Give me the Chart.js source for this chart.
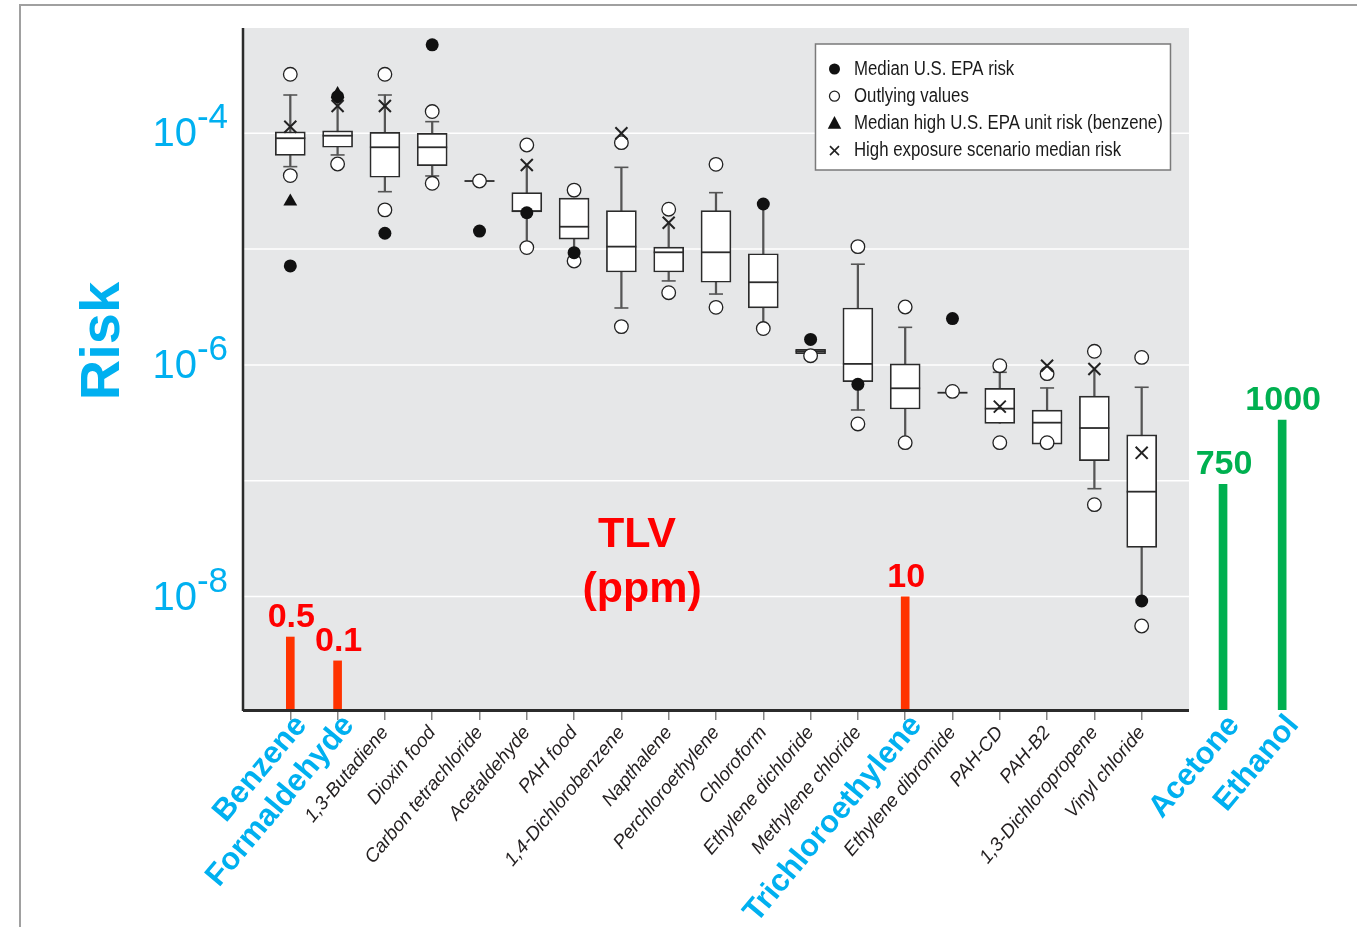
<!DOCTYPE html>
<html>
<head>
<meta charset="utf-8">
<script src="https://cdn.jsdelivr.net/npm/chart.js@4.4.1/dist/chart.umd.min.js"></script>
<style>
  html, body { margin: 0; padding: 0; background: #fff; }
  #wrap { width: 1357px; height: 927px; position: relative; }
</style>
</head>
<body>
<div id="wrap"><canvas id="riskChart"></canvas></div>
<script>
// categories (x axis)
var chemicals = ['Benzene', 'Formaldehyde', '1,3-Butadiene', 'Dioxin food', 'Carbon tetrachloride',
  'Acetaldehyde', 'PAH food', '1,4-Dichlorobenzene', 'Napthalene', 'Perchloroethylene', 'Chloroform',
  'Ethylene dichloride', 'Methylene chloride', 'Trichloroethylene', 'Ethylene dibromide', 'PAH-CD',
  'PAH-B2', '1,3-Dichloropropene', 'Vinyl chloride'];
var highlighted = ['Benzene', 'Formaldehyde', 'Trichloroethylene'];
// solvents only shown with a TLV, right of the plot
var solvents = ['Acetone', 'Ethanol'];
var solventPos = [19.72, 20.97];

// box plot values (risk)
var whiskerLo = [5.15e-5, 6.5e-5, 3.13e-5, 4.28e-5, 3.87e-5, 1.05e-5, 9.3e-6, 3.1e-6, 5.31e-6, 4.09e-6,
  2.2e-6, 1.25e-6, 4.08e-7, 2.2e-7, 5.75e-7, 3.13e-7, 2.07e-7, 8.53e-8, 9.14e-9];
var q1 = [6.45e-5, 7.57e-5, 4.17e-5, 5.25e-5, 3.87e-5, 2.09e-5, 1.22e-5, 6.34e-6, 6.34e-6, 5.17e-6,
  3.1e-6, 1.25e-6, 7.16e-7, 4.16e-7, 5.75e-7, 3.13e-7, 2.07e-7, 1.49e-7, 2.66e-8];
var median = [9.06e-5, 9.53e-5, 7.57e-5, 7.57e-5, 3.87e-5, 2.13e-5, 1.56e-5, 1.05e-5, 9.38e-6, 9.38e-6,
  5.17e-6, 1.31e-6, 1.02e-6, 6.28e-7, 5.75e-7, 4.19e-7, 3.17e-7, 2.85e-7, 8.04e-8];
var q3 = [1.03e-4, 1.05e-4, 1.02e-4, 1.0e-4, 3.87e-5, 3.07e-5, 2.76e-5, 2.15e-5, 1.04e-5, 2.15e-5,
  9.12e-6, 1.36e-6, 3.1e-6, 1.02e-6, 5.75e-7, 6.28e-7, 4.07e-7, 5.38e-7, 2.49e-7];
var whiskerHi = [2.14e-4, 2.07e-4, 2.14e-4, 1.26e-4, 3.87e-5, 5.32e-5, 2.76e-5, 5.08e-5, 1.69e-5, 3.07e-5,
  2.45e-5, 1.36e-6, 7.4e-6, 2.11e-6, 5.75e-7, 8.63e-7, 6.32e-7, 9.22e-7, 6.41e-7];
var capHi = [1, 0, 1, 1, 0, 0, 0, 1, 0, 1, 0, 0, 1, 1, 0, 1, 1, 0, 1];
var capLo = [1, 1, 1, 1, 0, 0, 0, 1, 1, 1, 0, 0, 1, 0, 0, 0, 0, 1, 0];

var outliers = [[3.23e-4, 4.31e-5], [5.43e-5], [3.23e-4, 2.18e-5], [1.54e-4, 3.7e-5], [3.87e-5],
  [7.92e-5, 1.03e-5], [3.23e-5, 7.89e-6], [8.3e-5, 2.14e-6], [2.21e-5, 4.2e-6], [5.39e-5, 3.14e-6],
  [2.06e-6], [1.2e-6], [1.05e-5, 3.09e-7], [3.16e-6, 2.13e-7], [5.9e-7], [9.84e-7, 2.13e-7],
  [8.4e-7, 2.13e-7], [1.31e-6, 6.21e-8], [1.16e-6, 5.56e-9]];
var epaMedian = [7.15e-6, 2.07e-4, 1.37e-5, 5.8e-4, 1.43e-5, 2.06e-5, 9.31e-6, null, null, null,
  2.45e-5, 1.66e-6, 6.8e-7, null, 2.51e-6, null, null, null, 9.14e-9];
var benzeneHigh = [2.57e-5, 2.18e-4];
var highExposure = [1.14e-4, 1.72e-4, 1.72e-4, null, null, 5.32e-5, null, 1.0e-4, 1.69e-5, null,
  null, null, null, null, null, 4.36e-7, 9.84e-7, 9.22e-7, 1.74e-7];

// TLV (ppm) annotations
var tlvChem = ['Benzene', 'Formaldehyde', 'Trichloroethylene', 'Acetone', 'Ethanol'];
var tlvPpm = ['0.5', '0.1', '10', '750', '1000'];
var tlvBar = [10.7, 7.2, 16.6, 33.1, 42.5]; // bar height on hidden TLV axis (0-100)

// axis
var yMin = 1.047e-9, yMax = 8.11e-4;
var gridExp = [-8, -7, -6, -5, -4];
var labelExp = [-8, -6, -4];

var cyan = '#00b0f0', red = '#ff0000', green = '#00b050';
var sans = "'Liberation Sans', Arial, sans-serif";

function posOf(name) {
  var i = chemicals.indexOf(name);
  return i >= 0 ? i : solventPos[solvents.indexOf(name)];
}
function pts(arr) {
  var out = [];
  arr.forEach(function (v, i) { if (v != null) out.push({ x: i, y: v }); });
  return out;
}
var outlierPts = [];
outliers.forEach(function (list, i) { list.forEach(function (v) { outlierPts.push({ x: i, y: v }); }); });
var capPts = [];
chemicals.forEach(function (c, i) {
  if (capHi[i]) capPts.push({ x: i, y: whiskerHi[i] });
  if (capLo[i]) capPts.push({ x: i, y: whiskerLo[i] });
});

function drawMarker(c, style, x, y, r) {
  c.beginPath();
  if (style == 'dot' || style == 'ring') {
    c.arc(x, y, r, 0, Math.PI * 2);
    c.fillStyle = style == 'dot' ? '#111' : '#fff';
    c.fill();
    if (style == 'ring') { c.lineWidth = 1.3; c.strokeStyle = '#222'; c.stroke(); }
  } else if (style == 'tri') {
    c.moveTo(x, y - r); c.lineTo(x + r * 0.9, y + r * 0.7); c.lineTo(x - r * 0.9, y + r * 0.7);
    c.closePath(); c.fillStyle = '#111'; c.fill();
  } else {
    c.moveTo(x - r, y - r); c.lineTo(x + r, y + r); c.moveTo(x + r, y - r); c.lineTo(x - r, y + r);
    c.lineWidth = 1.6; c.strokeStyle = '#222'; c.stroke();
  }
}

var decor = {
  id: 'decor',
  beforeDraw: function (chart) {
    var c = chart.ctx, a = chart.chartArea, x = chart.scales.x, y = chart.scales.y;
    var right = x.getPixelForValue(chemicals.length);
    c.save();
    c.strokeStyle = '#a0a0a0'; c.lineWidth = 2;
    c.beginPath(); c.moveTo(20, 927); c.lineTo(20, 5); c.lineTo(1357, 5); c.stroke();
    c.fillStyle = '#e6e7e8';
    c.fillRect(a.left, a.top, right - a.left, a.bottom - a.top);
    c.strokeStyle = '#ffffff'; c.lineWidth = 1.5;
    y.ticks.forEach(function (t) {
      var py = y.getPixelForValue(t.value);
      c.beginPath(); c.moveTo(a.left, py); c.lineTo(right, py); c.stroke();
    });
    c.restore();
  },
  afterDraw: function (chart) {
    var c = chart.ctx, a = chart.chartArea, x = chart.scales.x, y = chart.scales.y;
    var right = x.getPixelForValue(chemicals.length);
    c.save();
    // axis lines
    c.strokeStyle = '#2b2b2b';
    c.lineWidth = 2.5;
    c.beginPath(); c.moveTo(a.left, a.top); c.lineTo(a.left, a.bottom + 1); c.stroke();
    c.lineWidth = 3;
    c.beginPath(); c.moveTo(a.left, a.bottom + 0.5); c.lineTo(right, a.bottom + 0.5); c.stroke();

    // y tick labels 10^n
    c.fillStyle = cyan;
    c.textBaseline = 'alphabetic';
    c.textAlign = 'left';
    labelExp.forEach(function (e) {
      var py = y.getPixelForValue(Math.pow(10, e));
      var ex = String(e);
      c.font = '35px ' + sans;
      var ew = c.measureText(ex).width;
      c.font = '40px ' + sans;
      var bw = c.measureText('10').width;
      var xr = a.left - 15;
      c.fillText('10', xr - ew - bw, py + 13);
      c.font = '35px ' + sans;
      c.fillText(ex, xr - ew, py - 5);
    });

    // y title
    c.save();
    c.translate(119, 341);
    c.rotate(-Math.PI / 2);
    c.textAlign = 'center';
    c.font = 'bold 56px ' + sans;
    c.fillText('Risk', 0, 0);
    c.restore();

    // highlighted x labels
    highlighted.concat(solvents).forEach(function (name) {
      var px = x.getPixelForValue(posOf(name));
      c.save();
      c.translate(px + 11, a.bottom + 10);
      c.rotate(-50 * Math.PI / 180);
      c.textAlign = 'right';
      c.textBaseline = 'middle';
      c.font = 'bold 31px ' + sans;
      c.fillStyle = cyan;
      c.fillText(name, 0, 0);
      c.restore();
    });

    // TLV heading
    c.fillStyle = red;
    c.textAlign = 'center';
    c.textBaseline = 'middle';
    c.font = 'bold 43px ' + sans;
    c.fillText('TLV', x.getPixelForValue(7.33), y.getPixelForValue(3.4e-8));
    c.fillText('(ppm)', x.getPixelForValue(7.44), y.getPixelForValue(1.14e-8));

    // TLV values over their bars
    var meta = chart.getDatasetMeta(chart.data.datasets.length - 1);
    c.font = 'bold 34px ' + sans;
    c.textBaseline = 'alphabetic';
    meta.data.forEach(function (bar, i) {
      c.fillStyle = i < 3 ? red : green;
      c.fillText(tlvPpm[i], bar.x + 1, bar.y - 10);
    });

    // legend
    var lw = 355, lh = 126;
    var lx = right - 18.5 - lw, ly = a.top + 16;
    c.fillStyle = '#fff';
    c.fillRect(lx, ly, lw, lh);
    c.strokeStyle = '#7a7a7a'; c.lineWidth = 1.5;
    c.strokeRect(lx, ly, lw, lh);
    var items = [['dot', 'Median U.S. EPA risk', 5.5], ['ring', 'Outlying values', 5],
      ['tri', 'Median high U.S. EPA unit risk (benzene)', 7.5], ['x', 'High exposure scenario median risk', 4.5]];
    c.font = '20px ' + sans;
    c.textAlign = 'left';
    c.textBaseline = 'middle';
    items.forEach(function (it, i) {
      var ry = ly + 25 + i * 27.2;
      drawMarker(c, it[0], lx + 19, ry, it[2]);
      c.fillStyle = '#1a1a1a';
      var w = c.measureText(it[1]).width;
      c.fillText(it[1], lx + 38.5, ry, w * 0.84);
    });
    c.restore();
  }
};

new Chart(document.getElementById('riskChart'), {
  type: 'bar',
  data: {
    datasets: [
      {
        type: 'scatter', label: 'High exposure scenario median risk', data: pts(highExposure), order: 0,
        pointStyle: 'crossRot', pointRadius: 8.5, pointBorderWidth: 2, pointBorderColor: '#222'
      },
      {
        type: 'scatter', label: 'Median high U.S. EPA unit risk (benzene)', data: pts(benzeneHigh), order: 1,
        pointStyle: 'triangle', pointRadius: 8, pointBorderWidth: 0, pointBackgroundColor: '#111'
      },
      {
        type: 'scatter', label: 'Median U.S. EPA risk', data: pts(epaMedian), order: 2,
        pointStyle: 'circle', pointRadius: 6.5, pointBorderWidth: 0, pointBackgroundColor: '#111'
      },
      {
        type: 'scatter', label: 'Outlying values', data: outlierPts, order: 3,
        pointStyle: 'circle', pointRadius: 6.8, pointBorderWidth: 1.3,
        pointBorderColor: '#222', pointBackgroundColor: '#fff'
      },
      {
        type: 'scatter', label: 'Median', data: pts(median), order: 4,
        pointStyle: 'line', pointRadius: 15, pointBorderWidth: 1.8, pointBorderColor: '#2b2b2b'
      },
      {
        label: 'Box', data: chemicals.map(function (c, i) { return { x: i, y: [q1[i], q3[i]] }; }), order: 5,
        barThickness: 30, grouped: false, borderSkipped: false, borderWidth: 1.7,
        borderColor: '#2b2b2b', backgroundColor: '#fff'
      },
      {
        type: 'scatter', label: 'Caps', data: capPts, order: 6,
        pointStyle: 'line', pointRadius: 7, pointBorderWidth: 1.6, pointBorderColor: '#555'
      },
      {
        label: 'Whisker', data: chemicals.map(function (c, i) { return { x: i, y: [whiskerLo[i], whiskerHi[i]] }; }),
        order: 7, barThickness: 1.6, grouped: false, borderWidth: 0, backgroundColor: '#555'
      },
      {
        label: 'TLV', yAxisID: 'tlv', order: 8,
        data: tlvChem.map(function (n, i) { return { x: posOf(n), y: tlvBar[i] }; }),
        barThickness: 8, grouped: false, borderWidth: 0,
        backgroundColor: ['#ff3300', '#ff3300', '#ff3300', green, green]
      }
    ]
  },
  options: {
    responsive: true,
    maintainAspectRatio: false,
    animation: false,
    events: [],
    layout: { padding: { top: 28, right: 37, left: 0, bottom: 0 } },
    plugins: { legend: { display: false }, tooltip: { enabled: false } },
    scales: {
      x: {
        type: 'linear', min: -1, max: 21.77, offset: false,
        afterBuildTicks: function (s) { s.ticks = chemicals.map(function (c, i) { return { value: i }; }); },
        afterFit: function (s) { s.height = 217; },
        border: { display: false },
        grid: { offset: false, drawOnChartArea: false, drawTicks: true, tickLength: 10, lineWidth: 1.5, color: '#858585' },
        ticks: {
          autoSkip: false, minRotation: 50, maxRotation: 50, padding: 2,
          color: '#231f20',
          font: { family: sans, size: 19, style: 'italic' },
          callback: function (v, i) { return highlighted.indexOf(chemicals[i]) >= 0 ? '' : chemicals[i]; }
        }
      },
      y: {
        type: 'logarithmic', min: yMin, max: yMax,
        afterBuildTicks: function (s) { s.ticks = gridExp.map(function (e) { return { value: Math.pow(10, e) }; }); },
        afterFit: function (s) { s.width = 243; },
        ticks: { display: false },
        grid: { display: false },
        border: { display: false }
      },
      tlv: { type: 'linear', display: false, min: 0, max: 100 }
    }
  },
  plugins: [decor]
});
</script>
</body>
</html>
